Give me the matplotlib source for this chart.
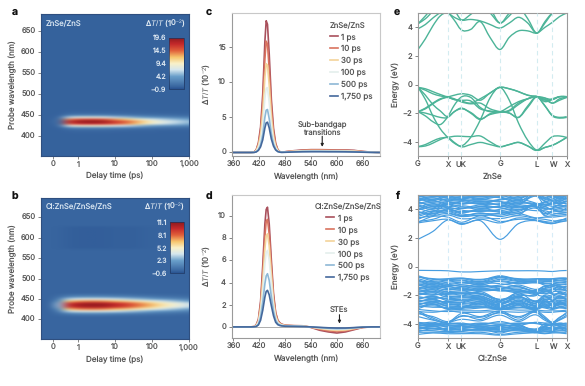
import numpy as np
import matplotlib
matplotlib.use('Agg')
import matplotlib.pyplot as plt
from matplotlib.colors import LinearSegmentedColormap
from matplotlib.path import Path
from matplotlib.patches import PathPatch

W, H = 585, 386

# delay map: columns every 0.25 decade from -1 to 3, rows 410..460 nm in 5 nm steps
delay_pos = [-1, -.75, -.5, -.25, 0, .25, .5, .75, 1, 1.25, 1.5, 1.75, 2, 2.25, 2.5, 2.75, 3]
band_wl = [410, 415, 420, 425, 430, 435, 440, 445, 450, 455, 460]
band_a = [
    [0, 0, 0, .1, .2, .2, .2, .2, .1, .1, .1, .1, .1, 0, 0, 0, 0],
    [0, 0, 0, .4, .5, .5, .5, .5, .4, .4, .3, .3, .3, .2, .2, .2, .2],
    [0, 0, .1, 2.0, 2.4, 2.5, 2.5, 2.4, 2.1, 1.9, 1.7, 1.4, 1.2, 1.0, .9, .8, .7],
    [0, 0, .5, 7.4, 8.8, 9.0, 9.0, 8.6, 7.6, 6.8, 5.8, 4.8, 4.0, 3.4, 3.0, 2.7, 2.4],
    [0, 0, 1.0, 15.0, 17.0, 17.4, 17.4, 16.6, 15.0, 13.8, 12.2, 10.2, 8.4, 7.2, 6.2, 5.4, 4.6],
    [0, 0, 1.2, 17.0, 19.0, 19.4, 19.4, 18.6, 16.6, 15.4, 13.4, 11.4, 9.4, 8.0, 7.0, 6.2, 5.4],
    [0, 0, 1.0, 13.6, 15.6, 16.0, 16.0, 15.0, 13.0, 11.8, 10.2, 8.6, 7.2, 6.2, 5.4, 4.8, 4.2],
    [0, 0, .4, 6.4, 7.8, 8.0, 8.0, 7.4, 6.2, 5.6, 4.8, 4.2, 3.6, 3.0, 2.6, 2.3, 2.0],
    [0, 0, .1, 1.8, 2.2, 2.3, 2.3, 2.1, 1.8, 1.6, 1.4, 1.2, 1.0, .9, .8, .7, .6],
    [0, 0, 0, .4, .5, .5, .5, .5, .4, .4, .3, .3, .3, .2, .2, .2, .2],
    [0, 0, 0, .1, .1, .1, .1, .1, .1, .1, .1, .1, 0, 0, 0, 0, 0],
]
band_b = [
    [0, 0, .2, .4, .5, .5, .5, .5, .4, .4, .3, .3, .2, .2, .2, .1, .1],
    [0, 0, .5, 1.4, 1.7, 1.8, 1.8, 1.7, 1.5, 1.4, 1.2, 1.0, .9, .7, .6, .5, .4],
    [0, 0, 1.0, 3.6, 4.2, 4.4, 4.4, 4.2, 3.8, 3.5, 3.1, 2.7, 2.3, 1.9, 1.6, 1.4, 1.1],
    [0, 0, 2.0, 6.6, 7.4, 7.7, 7.7, 7.4, 6.8, 6.4, 5.7, 5.1, 4.4, 3.7, 3.2, 2.7, 2.2],
    [0, 0, 2.8, 8.8, 9.8, 10.1, 10.1, 9.9, 9.2, 8.6, 7.8, 7.0, 6.2, 5.4, 4.7, 4.1, 3.4],
    [0, 0, 3.0, 9.6, 10.6, 10.9, 11.0, 10.8, 10.0, 9.4, 8.5, 7.7, 6.9, 6.0, 5.3, 4.6, 3.8],
    [0, 0, 2.8, 8.8, 9.8, 10.2, 10.2, 10.0, 9.3, 8.7, 7.9, 7.1, 6.3, 5.5, 4.8, 4.2, 3.5],
    [0, 0, 1.9, 6.4, 7.2, 7.5, 7.5, 7.3, 6.7, 6.2, 5.6, 5.0, 4.4, 3.7, 3.2, 2.7, 2.2],
    [0, 0, 1.0, 3.4, 4.0, 4.2, 4.2, 4.0, 3.7, 3.4, 3.0, 2.7, 2.3, 1.9, 1.6, 1.3, 1.0],
    [0, 0, .5, 1.4, 1.7, 1.8, 1.8, 1.7, 1.5, 1.4, 1.2, 1.0, .9, .7, .6, .5, .4],
    [0, 0, .2, .5, .6, .6, .6, .6, .5, .5, .4, .3, .3, .2, .2, .2, .1],
]
# faint dark patch in b around the STE band
ste_wl = [575, 580, 585, 590, 595, 600, 605, 610, 615, 620, 625]
ste_b = [0, 0, -.05, -.14, -.16, -.16, -.16, -.16, -.14, -.12, -.1, -.07, -.05, -.02, 0, 0, 0]
delay_ticks = [-.68, 0, 1, 2, 3]
delay_labels = ['0', '1', '10', '100', '1,000']
cbar_a = [-0.9, 4.2, 9.4, 14.5, 19.6]
cbar_b = [-0.6, 2.3, 5.2, 8.1, 11.1]

# spectra
wl = [350, 380, 400, 408, 413, 418, 423, 428, 433, 436, 439, 443, 448, 453, 458, 463, 468, 472, 480,
      500, 520, 540, 560, 580, 600, 620, 640, 660, 680, 700]
times = ['1 ps', '10 ps', '30 ps', '100 ps', '500 ps', '1,750 ps']
spec_colors = ['#a9505c', '#d9735f', '#f3d39a', '#e4efec', '#8db8d6', '#44689c']
c_1 = [0, 0, 0, .05, .4, 1.4, 3.6, 8.2, 15.8, 18.7, 18.2, 14, 7.5, 3.4, 1.3, .4, .1, .05, .1, .25, .35, .4, .4, .38, .35, .35, .3, .15, .05, 0]
c_10 = [0, 0, 0, .05, .35, 1.2, 3.1, 7.0, 13.3, 15.8, 15.4, 11.8, 6.4, 2.9, 1.1, .35, .1, .05, .1, .2, .3, .35, .35, .32, .3, .3, .25, .12, .05, 0]
c_30 = [0, 0, 0, .03, .3, 1.0, 2.5, 5.6, 10.7, 12.6, 12.4, 9.6, 5.1, 2.3, .9, .3, .08, .04, .08, .18, .25, .28, .28, .26, .25, .25, .2, .1, .04, 0]
c_100 = [0, 0, 0, .02, .2, .7, 1.8, 4.0, 7.7, 9.1, 9.2, 7.1, 3.8, 1.7, .65, .2, .06, .03, .06, .14, .2, .22, .22, .2, .2, .18, .15, .08, .03, 0]
c_500 = [0, 0, 0, .01, .1, .4, 1.1, 2.5, 5.0, 6.0, 6.1, 4.8, 2.6, 1.2, .45, .15, .05, .02, .04, .1, .14, .16, .16, .15, .14, .13, .1, .05, .02, 0]
c_1750 = [0, 0, 0, .01, .08, .3, .8, 1.8, 3.5, 4.2, 4.3, 3.5, 1.9, .9, .35, .12, .04, .02, .03, .07, .1, .11, .11, .1, .1, .09, .07, .04, .01, 0]
d_1 = [0, 0, 0, .03, .2, .7, 2.3, 5.5, 9.3, 10.6, 10.8, 9.3, 6.0, 3.0, 1.3, .6, .35, .25, .15, .1, .1, -.05, -.3, -.45, -.55, -.45, -.25, -.05, 0, 0]
d_10 = [0, 0, 0, .03, .18, .6, 2.0, 4.8, 8.2, 9.5, 9.7, 8.4, 5.4, 2.7, 1.2, .55, .32, .22, .14, .12, .1, -.02, -.22, -.35, -.42, -.35, -.2, -.04, 0, 0]
d_30 = [0, 0, 0, .02, .14, .5, 1.7, 4.1, 7.1, 8.2, 8.4, 7.3, 4.7, 2.3, 1.0, .45, .28, .2, .12, .1, .08, -.02, -.15, -.25, -.32, -.28, -.15, -.03, 0, 0]
d_100 = [0, 0, 0, .02, .1, .4, 1.3, 3.2, 5.7, 6.7, 6.9, 6.0, 3.9, 1.9, .8, .38, .22, .16, .1, .08, .06, -.02, -.1, -.18, -.22, -.2, -.1, -.02, 0, 0]
d_500 = [0, 0, 0, .01, .06, .25, .9, 2.2, 3.9, 4.6, 4.8, 4.2, 2.7, 1.4, .6, .28, .17, .12, .08, .06, .05, -.01, -.06, -.12, -.16, -.14, -.08, -.02, 0, 0]
d_1750 = [0, 0, 0, .01, .04, .18, .6, 1.5, 2.7, 3.2, 3.3, 2.9, 1.9, 1.0, .42, .2, .12, .09, .06, .05, .03, 0, -.04, -.08, -.1, -.1, -.06, -.02, 0, 0]

# band structures
sym_k = [0, 1, 1.44, 2.76, 4.0, 4.52, 5.0]
sym_lab = ['G', 'X', 'UK', 'G', 'L', 'W', 'X']
e_k = [0, .25, .5, .75, 1, 1.22, 1.44, 1.77, 2.09, 2.42, 2.76, 3.07, 3.38, 3.69, 4.0, 4.27, 4.52, 4.76, 5.0]
e_bands = [
    [2.45, 3.2, 4.1, 4.8, 5.0, 4.5, 3.85, 3.85, 4.4, 3.3, 2.45, 3.3, 3.75, 3.75, 3.6, 4.0, 4.35, 4.75, 5.0],
    [3.9, 4.2, 4.65, 5.0, 5.0, 4.7, 4.5, 4.55, 4.45, 4.2, 3.95, 4.3, 4.7, 4.3, 3.6, 4.3, 4.95, 5.0, 5.05],
    [4.25, 4.6, 5.1, 5.4, 5.5, 5.2, 4.55, 4.9, 5.4, 5.0, 4.3, 4.8, 5.4, 4.6, 3.6, 4.4, 5.0, 5.1, 5.1],
    [4.25, 4.8, 5.4, 5.6, 5.6, 5.4, 5.0, 5.5, 5.7, 5.3, 4.3, 5.0, 5.6, 5.6, 5.5, 5.6, 5.6, 5.6, 5.6],
    [-.2, -.3, -.5, -.7, -.85, -.75, -.65, -.75, -1.1, -.6, -.2, -.3, -.5, -.75, -.85, -.95, -1.05, -.85, -.85],
    [-.2, -.4, -.65, -.8, -.9, -1.05, -1.15, -1.3, -1.0, -.6, -.2, -.3, -.5, -.75, -.85, -.95, -1.3, -1.0, -.9],
    [-.2, -.75, -1.4, -1.85, -2.25, -1.9, -1.65, -2.0, -2.45, -2.05, -1.9, -2.0, -2.3, -1.5, -.85, -1.5, -2.15, -2.3, -2.25],
    [-.2, -1.05, -2.2, -3.1, -3.7, -4.1, -4.3, -3.7, -2.5, -.95, -.2, -1.1, -2.7, -3.9, -4.6, -4.4, -4.25, -4.0, -3.7],
    [-1.9, -1.7, -1.35, -1.05, -.9, -1.05, -1.1, -1.15, -1.7, -1.85, -1.9, -1.55, -1.2, -1.0, -.85, -1.05, -1.3, -1.1, -.9],
    [-1.9, -1.65, -1.3, -1.0, -.9, -1.0, -1.2, -1.35, -1.3, -1.7, -1.9, -2.0, -2.3, -1.6, -.85, -1.2, -1.05, -.85, -.9],
    [-1.9, -2.2, -2.6, -2.8, -2.25, -1.45, -.9, -.9, -1.6, -1.9, -1.9, -1.85, -1.4, -1.0, -.85, -1.1, -1.0, -.85, -.85],
    [-1.9, -2.0, -2.15, -2.3, -2.3, -1.9, -1.7, -1.95, -2.4, -2.1, -1.95, -1.8, -1.3, -1.0, -.85, -1.5, -2.2, -2.35, -2.3],
    [-4.35, -4.2, -3.95, -3.75, -3.7, -3.62, -3.62, -3.65, -3.6, -4.0, -4.35, -4.2, -4.05, -4.3, -4.6, -4.1, -3.65, -3.6, -3.7],
    [-4.35, -4.3, -4.1, -3.85, -3.7, -4.05, -4.35, -4.2, -4.05, -4.2, -4.35, -4.2, -4.05, -4.3, -4.6, -4.4, -4.25, -4.0, -3.7],
]
f_k = [0, .5, 1, 1.44, 2.1, 2.76, 3.38, 4, 4.26, 4.52, 4.76, 5]
f_bands = [
    [1.9, 2.45, 3.25, 2.95, 3.2, 1.9, 3.0, 3.2, 3.1, 3.0, 3.15, 3.2],
    [3.05, 3.2, 3.3, 3.0, 3.3, 3.05, 3.4, 3.2, 3.05, 3.0, 3.1, 3.2],
    [3.1, 3.5, 3.45, 3.1, 3.55, 3.15, 3.3, 3.25, 3.15, 3.1, 3.25, 3.3],
    [3.15, 3.3, 3.6, 3.35, 3.4, 3.35, 3.55, 3.35, 3.3, 3.2, 3.2, 3.4],
    [3.3, 3.7, 3.75, 3.55, 3.75, 3.5, 3.7, 3.4, 3.45, 3.45, 3.5, 3.55],
    [3.4, 3.55, 3.7, 3.5, 3.6, 3.6, 3.85, 4.1, 3.55, 3.55, 3.6, 3.65],
    [3.5, 3.8, 3.85, 3.6, 3.7, 3.7, 3.95, 4.2, 3.8, 3.65, 3.75, 3.75],
    [3.6, 3.9, 3.9, 3.7, 3.55, 3.75, 4.0, 3.9, 3.9, 3.75, 3.7, 3.8],
    [3.7, 4.05, 4.0, 3.85, 3.95, 3.9, 4.15, 4.25, 4.2, 3.95, 3.95, 4.0],
    [3.8, 3.7, 3.95, 3.8, 3.9, 3.8, 3.6, 4.3, 3.6, 3.85, 3.85, 3.9],
    [3.85, 3.6, 4.05, 3.75, 4.05, 3.85, 3.75, 4.05, 3.7, 3.9, 4.05, 3.95],
    [3.95, 4.2, 4.15, 3.95, 3.85, 4.0, 4.3, 4.15, 4.1, 4.0, 3.85, 4.1],
    [4.0, 4.3, 4.1, 4.05, 4.2, 4.15, 4.4, 4.35, 4.05, 4.05, 4.15, 4.15],
    [4.05, 3.85, 4.3, 4.1, 4.3, 4.1, 3.95, 4.2, 4.0, 4.1, 4.3, 4.2],
    [4.15, 4.4, 4.2, 4.25, 4.1, 4.25, 4.5, 4.3, 4.3, 4.2, 4.15, 4.3],
    [4.2, 4.0, 4.35, 4.2, 4.0, 4.2, 4.1, 4.3, 4.35, 4.3, 4.25, 4.25],
    [4.3, 4.1, 4.45, 4.35, 4.55, 4.3, 4.2, 4.35, 4.45, 4.35, 4.45, 4.4],
    [4.35, 4.5, 4.5, 4.4, 4.45, 4.35, 4.6, 4.35, 4.5, 4.4, 4.5, 4.35],
    [4.4, 4.6, 4.35, 4.5, 4.35, 4.4, 4.7, 4.4, 4.2, 4.45, 4.6, 4.5],
    [4.5, 4.3, 4.55, 4.6, 4.7, 4.55, 4.4, 4.9, 4.6, 4.55, 4.35, 4.6],
    [4.55, 4.2, 4.4, 4.55, 4.6, 4.5, 4.3, 4.95, 4.3, 4.5, 4.4, 4.55],
    [4.6, 4.7, 4.7, 4.65, 4.4, 4.65, 4.8, 5.0, 4.85, 4.6, 4.65, 4.65],
    [4.65, 4.8, 4.6, 4.7, 4.5, 4.7, 4.9, 4.95, 4.75, 4.65, 4.75, 4.7],
    [4.7, 4.9, 4.8, 4.8, 4.9, 4.8, 4.5, 5.1, 4.55, 4.75, 4.85, 4.75],
    [4.75, 4.5, 4.75, 4.85, 4.85, 4.85, 4.6, 5.0, 4.95, 4.8, 4.55, 4.8],
    [4.8, 4.6, 4.9, 4.9, 4.7, 4.9, 5.0, 5.1, 5.0, 4.9, 4.7, 4.85],
    [4.85, 5.0, 4.85, 4.7, 5.0, 4.95, 5.1, 5.05, 4.7, 4.85, 4.95, 4.9],
    [4.9, 4.85, 4.95, 4.75, 4.95, 5.0, 4.7, 5.2, 4.8, 4.95, 4.9, 4.95],
    [4.95, 4.7, 5.0, 5.0, 4.75, 5.05, 4.8, 5.15, 5.1, 5.0, 4.8, 5.0],
    [-.27, -.28, -.3, -.38, -.35, -.3, -.3, -.3, -.32, -.35, -.3, -.28],
    [-.65, -.9, -.85, -.8, -.95, -.65, -.9, -.85, -.85, -.85, -.8, -.8],
    [-.7, -1.0, -.95, -.85, -1.05, -.7, -.95, -.95, -.95, -.95, -.85, -.85],
    [-.75, -.85, -.9, -.85, -.9, -.75, -.85, -.9, -.9, -.9, -.85, -.85],
    [-.85, -1.1, -1.0, -.95, -1.1, -.8, -1.0, -1.0, -1.0, -1.0, -.95, -.9],
    [-.95, -1.2, -1.1, -1.0, -1.2, -.9, -1.05, -1.1, -1.05, -1.05, -1.0, -1.0],
    [-1.0, -1.3, -1.2, -1.1, -1.3, -1.0, -1.15, -1.05, -1.15, -1.15, -1.1, -1.05],
    [-1.1, -1.05, -1.25, -1.15, -1.05, -1.05, -1.2, -1.15, -1.2, -1.2, -1.15, -1.1],
    [-1.2, -1.4, -1.35, -1.3, -1.4, -1.3, -1.1, -1.1, -1.3, -1.35, -1.3, -1.25],
    [-1.25, -1.15, -1.4, -1.25, -1.15, -1.2, -1.4, -1.65, -1.35, -1.3, -1.25, -1.2],
    [-1.3, -1.5, -1.3, -1.4, -1.45, -1.4, -1.65, -1.7, -1.55, -1.4, -1.5, -1.35],
    [-1.35, -1.25, -1.5, -1.45, -1.25, -1.5, -1.3, -1.6, -1.5, -1.25, -1.45, -1.4],
    [-1.45, -1.6, -1.4, -1.6, -1.55, -1.6, -1.5, -1.65, -1.4, -1.5, -1.6, -1.55],
    [-1.5, -1.35, -1.55, -1.55, -1.35, -1.55, -1.4, -1.75, -1.6, -1.55, -1.4, -1.5],
    [-1.55, -1.45, -1.65, -1.5, -1.7, -1.65, -1.75, -1.7, -1.65, -1.65, -1.35, -1.7],
    [-1.6, -1.75, -1.6, -1.65, -1.65, -1.65, -1.85, -1.8, -1.75, -1.6, -1.65, -1.65],
    [-1.7, -1.8, -1.75, -1.7, -1.5, -1.7, -1.6, -1.9, -1.8, -1.75, -1.75, -1.85],
    [-1.75, -1.55, -1.8, -1.8, -1.6, -1.7, -1.7, -1.85, -1.9, -1.8, -1.55, -1.75],
    [-1.8, -1.65, -1.9, -1.85, -1.85, -2.3, -1.95, -2.0, -1.6, -1.9, -1.9, -1.95],
    [-1.85, -1.95, -1.95, -1.9, -1.95, -2.3, -2.05, -1.95, -1.7, -1.95, -2.0, -1.9],
    [-1.9, -2.0, -1.85, -2.0, -1.75, -2.35, -2.1, -2.4, -2.0, -2.05, -1.85, -2.05],
    [-1.95, -1.75, -2.05, -2.05, -1.9, -2.4, -1.8, -2.0, -2.1, -2.1, -1.8, -2.0],
    [-2.0, -1.85, -2.15, -2.1, -2.05, -2.45, -1.85, -2.45, -2.2, -2.15, -2.1, -2.15],
    [-2.1, -2.25, -2.1, -2.15, -2.1, -2.5, -2.15, -2.4, -2.3, -2.2, -2.2, -2.1],
    [-2.2, -2.15, -2.25, -2.2, -2.2, -2.55, -2.25, -2.55, -2.35, -2.3, -2.25, -2.25],
    [-2.25, -2.1, -2.3, -2.3, -2.25, -2.6, -2.35, -2.5, -2.05, -2.35, -2.05, -2.3],
    [-2.3, -2.05, -2.4, -2.35, -2.35, -2.65, -2.05, -2.65, -2.1, -2.4, -2.15, -2.35],
    [-2.35, -2.45, -2.45, -2.4, -2.45, -2.7, -2.15, -2.6, -2.45, -2.45, -2.35, -2.4],
    [-2.4, -2.35, -2.5, -2.5, -2.15, -2.75, -2.45, -2.75, -2.5, -2.55, -2.4, -2.45],
    [-2.45, -2.3, -2.55, -2.55, -2.3, -2.8, -2.55, -2.7, -2.55, -2.6, -2.5, -2.5],
    [-2.5, -2.25, -2.65, -2.6, -2.5, -2.85, -2.6, -2.85, -2.65, -2.65, -2.55, -2.55],
    [-2.55, -2.65, -2.7, -2.65, -2.6, -2.9, -2.45, -2.8, -2.75, -2.7, -2.6, -2.6],
    [-2.6, -2.55, -2.6, -2.75, -2.65, -2.95, -2.35, -2.95, -2.3, -2.75, -2.65, -2.65],
    [-2.65, -2.5, -2.75, -2.8, -2.75, -2.95, -2.75, -2.9, -2.4, -2.8, -2.7, -2.7],
    [-2.7, -2.45, -2.8, -2.85, -2.8, -3.0, -2.7, -3.0, -2.8, -2.85, -2.45, -2.75],
    [-2.75, -2.85, -2.85, -2.9, -2.55, -3.0, -2.65, -2.95, -2.7, -2.9, -2.55, -2.8],
    [-2.8, -2.75, -2.9, -2.95, -2.4, -2.9, -2.85, -2.9, -2.6, -2.95, -2.8, -2.85],
    [-2.85, -2.6, -2.95, -2.9, -2.85, -2.95, -2.9, -2.85, -2.85, -2.9, -2.85, -2.9],
    [-2.95, -2.65, -3.0, -3.0, -2.9, -2.8, -2.55, -2.8, -2.9, -3.0, -2.9, -2.95],
    [-3.0, -3.1, -3.15, -3.1, -3.1, -3.0, -3.05, -3.05, -3.1, -3.1, -3.1, -3.05],
    [-3.15, -3.2, -3.1, -3.2, -3.2, -3.15, -3.2, -3.15, -3.2, -3.2, -3.15, -3.15],
    [-3.1, -3.6, -3.9, -3.3, -3.5, -3.1, -3.6, -3.1, -3.5, -3.9, -3.6, -3.2],
    [-3.2, -3.7, -3.95, -3.45, -3.7, -3.2, -3.75, -3.2, -3.6, -3.95, -3.7, -3.4],
    [-3.3, -3.5, -3.85, -3.5, -3.55, -3.25, -3.5, -3.25, -3.65, -3.9, -3.55, -3.3],
    [-3.5, -3.75, -3.9, -3.7, -3.8, -3.4, -3.85, -3.4, -3.75, -3.95, -3.75, -3.5],
    [-3.9, -4.0, -3.95, -4.0, -4.1, -3.85, -4.1, -3.9, -3.95, -3.95, -4.0, -3.95],
    [-3.95, -4.1, -4.0, -4.05, -4.0, -3.95, -4.0, -3.95, -4.05, -4.0, -4.05, -4.0],
    [-4.0, -3.9, -4.1, -4.1, -3.95, -4.05, -3.95, -4.0, -4.1, -4.1, -3.95, -4.05],
    [-4.05, -4.15, -4.15, -4.15, -4.15, -4.15, -4.15, -4.4, -4.15, -4.1, -4.1, -4.1],
    [-4.1, -4.2, -4.05, -3.95, -4.2, -4.1, -4.2, -4.35, -4.2, -4.05, -4.15, -4.15],
    [-4.15, -4.0, -4.25, -4.2, -4.3, -4.25, -4.3, -4.45, -4.3, -4.25, -4.25, -4.25],
    [-4.2, -4.05, -4.2, -4.25, -4.05, -4.2, -4.05, -4.45, -4.0, -4.2, -4.05, -4.2],
    [-4.25, -4.3, -4.35, -4.3, -4.2, -4.35, -4.1, -4.5, -4.2, -4.35, -4.35, -4.35],
    [-4.3, -4.35, -4.3, -4.15, -4.35, -4.3, -4.35, -4.5, -4.35, -4.3, -4.3, -4.3],
    [-4.35, -4.15, -4.45, -4.4, -4.4, -4.4, -4.4, -4.55, -4.4, -4.45, -4.3, -4.4],
    [-4.4, -4.2, -4.4, -4.35, -4.25, -4.45, -4.25, -4.55, -4.25, -4.4, -4.2, -4.4],
    [-4.45, -4.5, -4.55, -4.5, -4.5, -4.5, -4.5, -4.6, -4.5, -4.55, -4.5, -4.5],
    [-4.5, -4.45, -4.35, -4.45, -4.45, -4.55, -4.45, -4.6, -4.45, -4.45, -4.45, -4.45],
    [-4.55, -4.35, -4.5, -4.55, -4.35, -4.65, -4.35, -4.6, -4.55, -4.5, -4.35, -4.55],
    [-4.6, -4.6, -4.6, -4.65, -4.6, -4.75, -4.6, -4.6, -4.65, -4.6, -4.6, -4.6],
    [-4.75, -4.65, -4.7, -4.7, -4.7, -4.8, -4.7, -4.65, -4.7, -4.65, -4.65, -4.7],
]

plt.rcParams['font.family'] = ['Inter', 'DejaVu Sans']
plt.rcParams['text.hinting'] = 'no_hinting'
plt.rcParams['text.hinting_factor'] = 1
plt.rcParams['mathtext.fontset'] = 'custom'
plt.rcParams['mathtext.rm'] = 'Liberation Sans'
plt.rcParams['mathtext.it'] = 'Liberation Sans:italic'
GREY = '#555555'
SPINE = '#9a9a9a'
FS = 5.5
heat = LinearSegmentedColormap.from_list('heat', [
    (0, '#27508f'), (.05, '#38659f'), (.25, '#6a9fca'), (.38, '#d5e6ee'), (.5, '#f8f0c8'),
    (.62, '#f6c66e'), (.75, '#e0603a'), (.88, '#c4282a'), (1, '#8e1a1e')])


def box(l, t, r, b):
    return [l / W, 1 - b / H, (r - l) / W, (b - t) / H]


def style(ax, xlabel, ylabel, rect, ylab_px):
    for s in ax.spines.values():
        s.set_color(SPINE)
        s.set_linewidth(.8)
    ax.tick_params(labelsize=FS, colors=GREY, length=2, width=.5, pad=2)
    ax.set_xlabel(xlabel, fontsize=FS + .3, color=GREY, labelpad=2.5)
    ax.set_ylabel(ylabel, fontsize=FS + .3, color=GREY)
    ax.yaxis.set_label_coords((ylab_px - rect[0]) / (rect[2] - rect[0]), .5)


def heatmap(rect, cbar_rect, band, ticks, name, ylim, dark=None):
    ax = fig.add_axes(box(*rect))
    rows = np.arange(350, 700, 5)
    z = np.zeros((len(rows), len(delay_pos)))
    z[np.searchsorted(rows, band_wl)] = band
    if dark is not None:
        z[np.searchsorted(rows, ste_wl)] = dark
    im = ax.imshow(z, origin='lower', aspect='auto', cmap=heat, vmin=ticks[0], vmax=ticks[-1],
                   interpolation='bicubic', extent=[-1.125, 3.125, 347.5, 697.5])
    ax.set_xlim(-1, 3)
    ax.set_ylim(*ylim)
    ax.set_xticks(delay_ticks, delay_labels)
    ax.set_yticks([400, 450, 500, 550, 600, 650])
    style(ax, 'Delay time (ps)', 'Probe wavelength (nm)', rect, 17)
    for s in ax.spines.values():
        s.set_color('#2f4f7f')
    ax.text(.035, .94, name, transform=ax.transAxes, fontsize=FS, color='#d5e3f0', va='center')
    ax.text(.975, .94, 'Δ$T/T$ (10$^{-2}$)', transform=ax.transAxes, fontsize=FS, color='#e6eef5',
            va='center', ha='right')
    cax = fig.add_axes(box(*cbar_rect))
    cb = fig.colorbar(im, cax=cax, ticks=ticks)
    cb.ax.yaxis.set_ticks_position('left')
    cb.ax.set_yticklabels([str(t).replace('-', '−') for t in ticks])
    cb.ax.tick_params(labelsize=FS - .5, colors='#dde8f2', length=0, pad=2)
    cb.outline.set_edgecolor('#1d3560')
    cb.outline.set_linewidth(.5)


def spectra(rect, series, title, ylim, yticks, legend_at, title_align):
    ax = fig.add_axes(box(*rect))
    for y, c, t in zip(series, spec_colors, times):
        ax.plot(wl, y, color=c, lw=1.2, label=t)
    ax.set_xlim(356, 700)
    ax.set_ylim(*ylim)
    ax.set_xticks([360, 420, 480, 540, 600, 660])
    ax.set_yticks(yticks)
    style(ax, 'Wavelength (nm)', 'Δ$T/T$ (10$^{-2}$)', rect, 213)
    ax.spines['top'].set_color('#c8c8c8')
    ax.spines['right'].set_color('#c8c8c8')
    leg = ax.legend(title=title, loc='upper left', bbox_to_anchor=legend_at, frameon=False, fontsize=FS + .3,
                    title_fontsize=FS, handlelength=1.0, handletextpad=.4, labelspacing=.5,
                    borderpad=0, labelcolor=GREY)
    leg.get_title().set_color(GREY)
    leg._legend_box.align = title_align
    return ax


def smooth(ax, x, y, color, lw):
    # cubic segments through the read values
    x = np.array(x, float)
    y = np.array(y, float)
    m = np.gradient(y, x)
    dx = np.diff(x) / 3
    verts = [(x[0], y[0])]
    codes = [Path.MOVETO]
    for i in range(len(x) - 1):
        verts += [(x[i] + dx[i], y[i] + m[i] * dx[i]), (x[i + 1] - dx[i], y[i + 1] - m[i + 1] * dx[i]),
                  (x[i + 1], y[i + 1])]
        codes += [Path.CURVE4] * 3
    ax.add_patch(PathPatch(Path(verts, codes), fill=False, edgecolor=color, lw=lw))


def bands(rect, k, rows, color, dash, name, lw):
    ax = fig.add_axes(box(*rect))
    for row in rows:
        smooth(ax, k, row, color, lw)
    for s in sym_k[1:]:
        ax.axvline(s, color=dash, lw=.8, ls=(0, (4, 3)), zorder=5)
    ax.set_xlim(0, 5)
    ax.set_ylim(-5, 5)
    ax.set_yticks([-4, -2, 0, 2, 4], ['−4', '−2', '0', '2', '4'])
    ax.set_xticks(sym_k, sym_lab)
    style(ax, name, 'Energy (eV)', rect, 399.5)


fig = plt.figure(figsize=(W / 100, H / 100), dpi=100)
heatmap((41, 14.3, 189.3, 155.7), (169, 37.7, 183.7, 89.3), band_a, cbar_a, 'ZnSe/ZnS', (353, 691))
heatmap((41, 198, 189, 339), (170, 222.3, 183.7, 273.3), band_b, cbar_b, 'Cl:ZnSe/ZnSe/ZnS', (352, 697), ste_b)

ax_c = spectra((231.7, 13, 380, 156), [c_1, c_10, c_30, c_100, c_500, c_1750], 'ZnSe/ZnS', (-.5, 19.8),
               [0, 5, 10, 15], (.635, .97), 'left')
ax_c.text(566, 3.4, 'Sub-bandgap\ntransitions', fontsize=FS, color=GREY, ha='center', va='center', linespacing=1.0)
ax_c.annotate('', xy=(566, .8), xytext=(566, 2.3), arrowprops=dict(arrowstyle='-|>', color='#222222', lw=.8,
                                                                    mutation_scale=4, shrinkA=0, shrinkB=0))
ax_d = spectra((231.7, 195, 380, 338), [d_1, d_10, d_30, d_100, d_500, d_1750], 'Cl:ZnSe/ZnSe/ZnS', (-1, 11.9),
               [0, 2, 4, 6, 8, 10], (.53, .975), 'center')
ax_d.axhline(0, color='#a0a0a0', lw=.6, zorder=0)
ax_d.text(606, 1.45, 'STEs', fontsize=FS, color=GREY, ha='center', va='center')
ax_d.annotate('', xy=(606, .3), xytext=(606, 1.1), arrowprops=dict(arrowstyle='-|>', color='#222222', lw=.8,
                                                                   mutation_scale=4, shrinkA=0, shrinkB=0))

bands((418, 13, 566.7, 156), e_k, e_bands, '#4cb498', '#d3ecf0', 'ZnSe', 1.0)
bands((418, 195, 566.7, 338), f_k, f_bands, '#479de0', '#d6ecf7', 'Cl:ZnSe', .85)

for lab, x, y in [('a', 15, 12), ('b', 15, 196), ('c', 209, 12), ('d', 209, 196), ('e', 397, 12), ('f', 397, 196)]:
    fig.text(x / W, 1 - y / H, lab, fontsize=7.5, fontweight='bold', color='#111111', ha='center', va='center')

fig.savefig('out.png', dpi=100)
